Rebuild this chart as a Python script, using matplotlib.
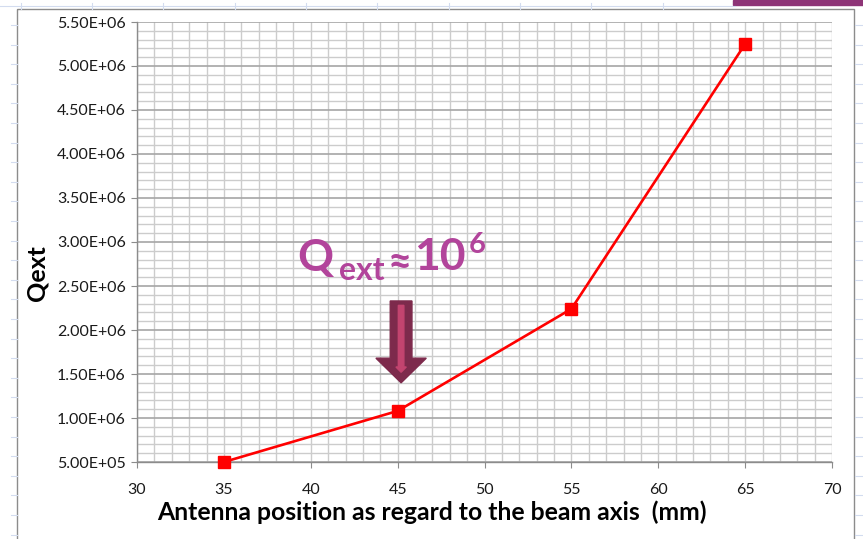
import numpy as np
import matplotlib
matplotlib.use("Agg")
import matplotlib.pyplot as plt
from matplotlib.patches import FancyArrow, Rectangle
from matplotlib.ticker import MultipleLocator, FuncFormatter

plt.rcParams['font.family'] = ['Lato', 'DejaVu Sans']

# antenna position (mm) vs external Q
position = [35, 45, 55, 65]
qext = [5.0e5, 1.08e6, 2.24e6, 5.25e6]

x_label = "Antenna position as regard to the beam axis  (mm)"
y_label = "Qext"

W, H = 863, 539
fig = plt.figure(figsize=(W / 100, H / 100), dpi=100)

# spreadsheet cells showing behind the chart object
bg = fig.add_axes([0, 0, 1, 1], zorder=-5)
bg.set_xlim(0, W)
bg.set_ylim(H, 0)
bg.axis('off')
cell = '#d3dcef'
bg.plot([0, 735], [6, 6], color=cell, lw=0.8)
for xx in [21, 92, 163, 235, 306, 377, 449, 520, 591, 663]:
    bg.plot([xx, xx], [3, 9], color=cell, lw=0.8)
for yy in np.arange(25, H, 19.6):
    bg.plot([11, 17], [yy, yy], color=cell, lw=0.8)
    bg.plot([855, 863], [yy, yy], color=cell, lw=0.8)
bg.add_patch(Rectangle((733, 0), 130, 5, color='#8e3477'))
bg.add_patch(Rectangle((17, 9), 837, 540, fill=False, ec='#8c8c8c', lw=1.0))
bg.add_patch(Rectangle((18, 10), 835, 540, color='white', zorder=-1))

ax = fig.add_axes([137 / W, 1 - 462 / H, (832 - 137) / W, (462 - 22) / H])
ax.set_xlim(30, 70)
ax.set_ylim(5e5, 5.5e6)

ax.xaxis.set_major_locator(MultipleLocator(5))
ax.xaxis.set_minor_locator(MultipleLocator(1))
ax.yaxis.set_major_locator(MultipleLocator(5e5))
ax.yaxis.set_minor_locator(MultipleLocator(1e5))
ax.yaxis.set_major_formatter(FuncFormatter(lambda v, p: f"{v:.2E}"))

ax.grid(which='minor', axis='both', color='#cccccc', lw=1.0)
ax.grid(which='major', axis='x', color='#cccccc', lw=1.0)
ax.grid(which='major', axis='y', color='#a6a6a6', lw=1.2)
ax.set_axisbelow(True)

for s in ['top', 'right']:
    ax.spines[s].set_visible(False)
for s in ['left', 'bottom']:
    ax.spines[s].set_color('#8c8c8c')
    ax.spines[s].set_linewidth(1.0)

ax.tick_params(which='minor', length=0)
ax.tick_params(which='major', color='#8c8c8c', length=4, labelsize=11.5,
               labelcolor='#1a1a1a')
ax.tick_params(axis='x', pad=11)
ax.tick_params(axis='y', pad=4)

ax.plot(position, qext, color='#ff0000', lw=1.9, marker='s', ms=9,
        mfc='#ff0000', mec='#ff0000', clip_on=False, zorder=5)

ax.set_xlabel(x_label, fontsize=17.8, fontweight='bold')
ax.xaxis.set_label_coords(0.4245, -0.088)
ax.set_ylabel(y_label, fontsize=18, fontweight='bold')
ax.yaxis.set_label_coords(-0.128, 0.43)

# annotation: Q_ext ~ 10^6 with arrow pointing at 45 mm
purple = '#b2449b'
ax.text(39.25, 2.67e6, "Q", fontsize=32, fontweight='bold', color=purple,
        va='baseline')
ax.text(41.6, 2.568e6, "ext", fontsize=23, fontweight='bold', color=purple,
        va='baseline')
ax.text(44.45, 2.64e6, "≈", fontsize=30, fontweight='bold', color=purple,
        va='baseline')
ax.text(45.95, 2.682e6, "10", fontsize=32, fontweight='bold', color=purple,
        va='baseline')
ax.text(49.1, 2.875e6, "6", fontsize=21, fontweight='bold', color=purple,
        va='baseline')

ax.add_patch(FancyArrow(45.2, 2.33e6, 0, -0.93e6, width=1.25, head_width=2.9,
                        head_length=2.8e5, length_includes_head=True,
                        color='#7d2a4c', zorder=6))
ax.add_patch(FancyArrow(45.2, 2.28e6, 0, -0.76e6, width=0.32, head_width=0.6,
                        head_length=0.6e5, length_includes_head=True,
                        color='#c2446f', zorder=7))

fig.savefig("out.png", dpi=100)
